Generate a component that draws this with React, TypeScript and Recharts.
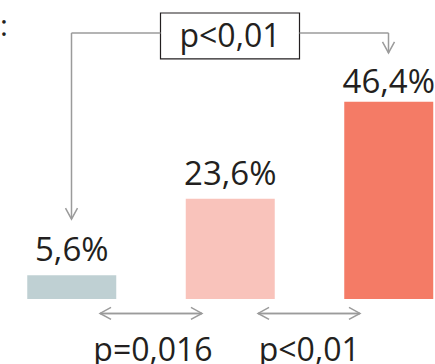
import { BarChart, Bar, XAxis, YAxis, Cell, LabelList, ReferenceLine, ReferenceArea, ReferenceDot } from 'recharts';

const groups = ['group1', 'group2', 'group3'];
const shares = [5.6, 23.6, 46.4];
const barColors = ['#bfd0d3', '#f9c3bb', '#f47b66'];

// p-values shown over the comparisons
const pTop = 'p<0,01';
const pBottom = ['p=0,016', 'p<0,01'];

const data = groups.map((name, i) => ({ name, pos: i, value: shares[i] }));

const INK = '#231f20';
const GREY = '#9b9b9b';
const FONT = "'Open Sans', 'Noto Sans', sans-serif";
const labelGaps = [14, 14, 8.5];

const fmt = (v: number) => String(v).replace('.', ',') + '%';

type LineShape = { x1?: number; y1?: number; x2?: number; y2?: number };

// straight line with an open chevron at the second point
const arrowEnd = (p: LineShape) => {
  const x1 = p.x1 ?? 0, y1 = p.y1 ?? 0, x2 = p.x2 ?? 0, y2 = p.y2 ?? 0;
  const a = Math.atan2(y2 - y1, x2 - x1);
  const len = 11, half = 6;
  const bx = x2 - len * Math.cos(a), by = y2 - len * Math.sin(a);
  const nx = -Math.sin(a) * half, ny = Math.cos(a) * half;
  return (
    <g>
      <line x1={x1} y1={y1} x2={x2} y2={y2} stroke={GREY} strokeWidth={1.5} />
      <polyline points={`${bx + nx},${by + ny} ${x2},${y2} ${bx - nx},${by - ny}`} fill="none" stroke={GREY} strokeWidth={1.5} />
    </g>
  );
};

const arrowBoth = (p: LineShape) => (
  <g>
    {arrowEnd(p)}
    {arrowEnd({ x1: p.x2, y1: p.y2, x2: p.x1, y2: p.y1 })}
  </g>
);

const plainLine = (p: LineShape) => (
  <line x1={p.x1} y1={p.y1} x2={p.x2} y2={p.y2} stroke={GREY} strokeWidth={1.5} />
);

const textAt = (txt: string) => (p: { cx?: number; cy?: number }) => (
  <text x={p.cx} y={p.cy} textAnchor="middle" fontSize={32} fontFamily={FONT} fill={INK}>
    {txt}
  </text>
);

const barLabel = (p: any) => {
  const gap = labelGaps[p.index] ?? 14;
  return (
    <text x={p.x + p.width / 2} y={p.y - gap} textAnchor="middle" fontSize={33} fontFamily={FONT} fill={INK}>
      {fmt(p.value)}
    </text>
  );
};

// annotation positions in data units
const bracketY = 62.6;
const boxHalf = 0.4385;

export default function App() {
  return (
    <div style={{ position: 'absolute', left: 0, top: 0, width: 435, height: 364, background: '#fff' }}>
      <BarChart
        width={435}
        height={364}
        data={data}
        margin={{ top: 1.5, right: -32.75, bottom: 1.25, left: -7.75 }}
      >
        <XAxis type="number" dataKey="pos" domain={[-0.5, 2.5]} allowDataOverflow hide />
        <YAxis type="number" domain={[-15, 70]} allowDataOverflow hide />
        <Bar dataKey="value" barSize={89} isAnimationActive={false}>
          {data.map((_, i) => (
            <Cell key={i} fill={barColors[i]} />
          ))}
          <LabelList dataKey="value" content={barLabel} />
        </Bar>

        <ReferenceLine segment={[{ x: 0, y: bracketY }, { x: 0, y: 18.8 }]} shape={arrowEnd} ifOverflow="visible" />
        <ReferenceLine segment={[{ x: 0, y: bracketY }, { x: 1 - boxHalf, y: bracketY }]} shape={plainLine} ifOverflow="visible" />
        <ReferenceLine segment={[{ x: 1 + boxHalf, y: bracketY }, { x: 2, y: bracketY }]} shape={plainLine} ifOverflow="visible" />
        <ReferenceLine segment={[{ x: 2, y: bracketY }, { x: 2, y: 57.9 }]} shape={arrowEnd} ifOverflow="visible" />
        <ReferenceArea
          x1={1 - boxHalf}
          x2={1 + boxHalf}
          y1={56.5}
          y2={67.3}
          fill="#fff"
          fillOpacity={1}
          stroke={INK}
          strokeWidth={1.2}
          ifOverflow="visible"
        />
        <ReferenceDot x={1} y={59.3} r={0} shape={textAt(pTop)} ifOverflow="visible" />

        <ReferenceLine segment={[{ x: 0.18, y: -3.4 }, { x: 0.823, y: -3.4 }]} shape={arrowBoth} ifOverflow="visible" />
        <ReferenceLine segment={[{ x: 1.177, y: -3.4 }, { x: 1.82, y: -3.4 }]} shape={arrowBoth} ifOverflow="visible" />
        <ReferenceDot x={0.514} y={-14.6} r={0} shape={textAt(pBottom[0])} ifOverflow="visible" />
        <ReferenceDot x={1.5} y={-14.6} r={0} shape={textAt(pBottom[1])} ifOverflow="visible" />
      </BarChart>
      <svg width={20} height={50} style={{ position: 'absolute', left: 0, top: 0 }}>
        <text x={0} y={36} fontSize={30} fontFamily={FONT} fill={INK}>:</text>
      </svg>
    </div>
  );
}
